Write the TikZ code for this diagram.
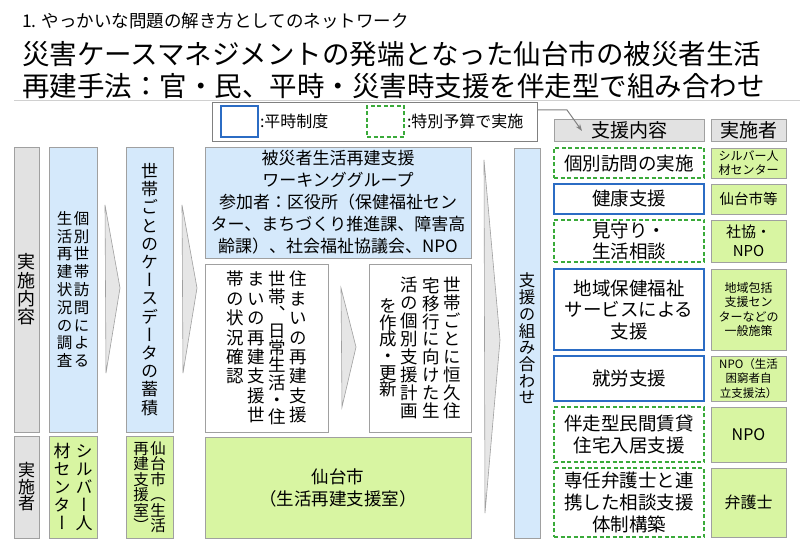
\documentclass[tikz,border=0pt]{standalone}
\usepackage{fontspec}
\setmainfont{Noto Sans CJK JP}
\newfontfamily\vjp[RawFeature=+vert]{Noto Sans CJK JP}
\usetikzlibrary{calc,arrows.meta}
\definecolor{paleblue}{HTML}{D5E9FB}
\definecolor{lime}{HTML}{D8F5A2}
\definecolor{hdrgray}{HTML}{E2E2E2}
\definecolor{bordergray}{HTML}{A0A0A0}
\definecolor{solidblue}{HTML}{2B6CC4}
\definecolor{dashgreen}{HTML}{3AAA3A}
\definecolor{chevgray}{HTML}{E6E6E6}
\definecolor{sepgray}{HTML}{D0D0D0}
\newdimen\vpitch
\makeatletter
\def\vlist#1{\baselineskip=\vpitch\lineskiplimit=-\maxdimen\lineskip=\z@\vlist@#1\@nil}
\def\vlist@#1{\ifx\@nil#1\else\hbox to 1em{\hss#1\hss}\expandafter\vlist@\fi}
\makeatother
\newcommand\VT[2]{\vtop{\vpitch=#1pt\relax\vlist{#2}}}
\newcommand\VC[2]{$\vcenter{\vpitch=#1pt\relax\vlist{#2}}$}
\newcommand\fs[1]{\fontsize{#1pt}{#1pt}\selectfont}
\newcommand\fsb[2]{\fontsize{#1pt}{#2pt}\selectfont}
\newcommand\bx[7]{\node[#6, minimum width={(#4-#2)*1pt}, minimum height={(#5-#3)*1pt}] (#1) at ({(#2+#4)/2},{(#3+#5)/2}) {#7};}
\begin{document}
\begin{tikzpicture}[x=1pt,y=-1pt,
  boxbase/.style={draw=bordergray, line width=0.8pt, inner sep=0pt, outer sep=0pt},
  gbox/.style={boxbase, fill=hdrgray},
  bbox/.style={boxbase, fill=paleblue},
  lbox/.style={boxbase, fill=lime},
  wbox/.style={boxbase, fill=white},
  sbox/.style={boxbase, draw=solidblue, line width=1.8pt, fill=white},
  dbox/.style={boxbase, draw=dashgreen, line width=1.6pt, dash pattern=on 4pt off 2.5pt, fill=white},
  chev/.style={draw=bordergray, fill=chevgray, line width=0.6pt, line join=miter},
  txt/.style={inner sep=0pt, outer sep=0pt}]
\fill[white] (0,0) rectangle (800,545);
\useasboundingbox (0,0) rectangle (800,545);
% titles
\node[txt, anchor=west, font=\fs{17.5}] (sub) at (22,21) {1. やっかいな問題の解き方としてのネットワーク};
\node[txt, anchor=west, font=\fs{27.5}] (t1) at (22,54.5) {災害ケースマネジメントの発端となった仙台市の被災者生活};
\node[txt, anchor=west, font=\fs{27.5}] (t2) at (22,86) {再建手法：官・民、平時・災害時支援を伴走型で組み合わせ};
\draw[sepgray, line width=0.8pt] (14,100.5) -- (800,100.5);
% legend
\bx{legend}{212}{102}{537}{141}{boxbase, draw=gray, fill=white}{}
\bx{lgb}{221}{106}{258}{137}{sbox}{}
\node[txt, anchor=west, font=\fs{16}] (lgbt) at (260,121.5) {:平時制度};
\bx{lgg}{367}{106}{404}{137}{dbox}{}
\node[txt, anchor=west, font=\fs{16}] (lggt) at (407,121.5) {:特別予算で実施};
% left side headers
\bx{lh1}{14}{147}{39}{432}{gbox}{\vjp\fs{18}\VT{18.3}{実施内容}}
\bx{lh2}{14}{436}{39}{538}{gbox}{\vjp\fs{17}\VT{16.5}{実施者}}
% column 1 and 2
\bx{c1}{49}{147}{97}{432}{bbox}{\vjp\fs{15.5}\VT{17.8}{生活再建状況の調査}\kern1.5pt\VT{17.8}{個別世帯訪問による}}
\bx{c2}{126}{147}{173}{432}{bbox}{\vjp\fs{17}\VT{18.2}{世帯ごとのケースデータの蓄積}}
\bx{g1}{49}{436}{97}{538}{lbox}{\vjp\fs{17}\VT{18}{材センター}\kern5pt\VT{18}{シルバー人}}
\bx{g2}{126}{436}{173}{538}{lbox}{\vjp\fs{15.5}\VT{15.5}{再建支援室）}\kern1.5pt\VT{15.5}{仙台市（生活}}
\draw[chev] (105,205) -- (120,288) -- (106,373) -- cycle;
\draw[chev] (182,205) -- (197,288) -- (183,373) -- cycle;
% middle
\bx{wg}{205}{147}{471}{258}{bbox, align=center, font=\fsb{17}{22}}{被災者生活再建支援\\ワーキンググループ\\参加者：区役所（保健福祉セン\\ター、まちづくり推進課、障害高\\齢課）、社会福祉協議会、NPO}
\bx{w1}{205}{264}{328}{432}{wbox}{\vjp\fs{17.5}\VT{19.4}{帯の状況確認}\kern3.5pt\VT{19.4}{まいの再建支援世}\kern3.5pt\VT{17.2}{世帯、日常生活・住}\kern3.5pt\VT{19.4}{住まいの再建支援}}
\draw[chev] (341,288) -- (356,347) -- (342,407) -- cycle;
\bx{w2}{369}{264}{471}{432}{wbox}{\vjp\fs{17.5}\VC{16.7}{を作成・更新}\kern4pt\VC{17.9}{活の個別支援計画}\kern4pt\VC{17.9}{宅移行に向けた生}\kern4pt\VC{17.9}{世帯ごとに恒久住}}
\bx{g3}{205}{437}{471}{538}{lbox, align=center, font=\fsb{17.5}{22}}{仙台市\\（生活再建支援室）}
\draw[chev] (484,160) -- (500,340) -- (485,513) -- cycle;
\bx{kumi}{514}{148}{540}{538}{bbox}{}
\node[txt] (kumit) at ($(kumi.center)+(0,-4.5)$) {\vjp\fs{16.5}\VT{16.7}{支援の組み合わせ}};
% right headers
\bx{hdr1}{554}{119}{704}{141}{gbox, font=\fs{19}}{支援内容}
\bx{hdr2}{711}{119}{786}{141}{gbox, font=\fs{19}}{実施者}
\draw[gray, line width=1pt, -{Stealth[length=7pt,width=5pt]}] ($(legend.north east)+(0,8)$) -- ++(30,0) -- ($(hdr1.north west)+(28,12)$);
% rows
\bx{s1}{554}{148}{704}{178}{dbox, font=\fs{18.5}}{個別訪問の実施}
\bx{i1}{711}{148}{786}{178}{lbox, align=center, font=\fsb{12}{13.5}}{シルバー人\\材センター}
\bx{s2}{554}{184}{704}{214}{sbox, font=\fs{18.5}}{健康支援}
\bx{i2}{711}{184}{786}{214}{lbox, font=\fs{14.5}}{仙台市等}
\bx{s3}{554}{220}{704}{262}{dbox, align=center, font=\fsb{18.5}{20.5}}{見守り・\\生活相談}
\bx{i3}{711}{220}{786}{262}{lbox, align=center, font=\fsb{15}{19}}{社協・\\NPO}
\bx{s4}{554}{269}{704}{350}{sbox, align=center, font=\fsb{18.5}{21.5}}{地域保健福祉\\サービスによる\\支援}
\bx{i4}{711}{269}{786}{350}{lbox, align=center, font=\fsb{12}{14.3}}{地域包括\\支援セン\\ターなどの\\一般施策}
\bx{s5}{554}{356}{704}{401}{sbox, font=\fs{18.5}}{就労支援}
\bx{i5}{711}{356}{786}{401}{lbox, align=center, font=\fsb{11.5}{14.5}}{NPO（生活\\困窮者自\\立支援法）}
\bx{s6}{554}{407}{704}{462}{dbox, align=center, font=\fsb{18.5}{22}}{伴走型民間賃貸\\住宅入居支援}
\bx{i6}{711}{407}{786}{462}{lbox, font=\fs{16}}{NPO}
\bx{s7}{554}{468}{704}{537}{dbox, align=center, font=\fsb{18.5}{22}}{専任弁護士と連\\携した相談支援\\体制構築}
\bx{i7}{711}{468}{786}{537}{lbox, font=\fs{16}}{弁護士}
\end{tikzpicture}
\end{document}
